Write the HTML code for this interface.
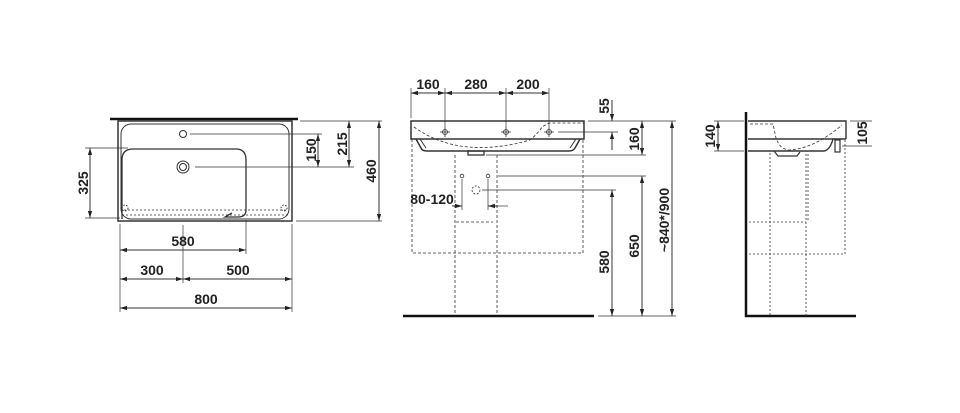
<!DOCTYPE html>
<html><head><meta charset="utf-8"><style>
html,body{margin:0;padding:0;background:#fff}
svg{display:block}
text{font-family:"Liberation Sans",Arial,sans-serif;font-weight:bold;font-size:14px;fill:#222}
</style></head><body>
<svg width="960" height="413" viewBox="0 0 960 413" xmlns="http://www.w3.org/2000/svg">
<defs>
<marker id="a" viewBox="0 0 10 10" refX="10" refY="5" markerWidth="7" markerHeight="7" orient="auto-start-reverse"><path d="M0,2 L10,5 L0,8 z" fill="#222"/></marker>
</defs>
<g stroke="#333" fill="none" stroke-width="1">
<!-- LEFT TOP VIEW -->
<line x1="110" y1="119" x2="298" y2="119" stroke-width="2.5" stroke="#111"/>
<rect x="118" y="121" width="174" height="100" stroke-width="1.5"/>
<rect x="121" y="124" width="168" height="95" rx="10"/>
<path d="M122,219 V160 Q122,149 133,149 H236 Q246,149 246,160 V210 Q246,217 238,217 H225 Q230,214 232,213" stroke-width="1.3"/>
<path d="M124,210 H288 M122,215 H288" stroke-dasharray="2,2" stroke-width="0.8"/>
<circle cx="125" cy="208" r="3" stroke-dasharray="1.5,1.5"/>
<circle cx="284" cy="208" r="3" stroke-dasharray="1.5,1.5"/>
<circle cx="183" cy="134" r="3.5"/>
<circle cx="183" cy="167" r="6"/><circle cx="183" cy="167" r="3.5"/>
<g stroke-width="0.7">
<line x1="190" y1="134" x2="322" y2="134"/>
<line x1="195" y1="167" x2="354" y2="167"/>
<line x1="300" y1="121" x2="382" y2="121"/>
<line x1="296" y1="221" x2="382" y2="221"/>
<line x1="85" y1="148" x2="128" y2="148"/>
<line x1="85" y1="218" x2="120" y2="218"/>
<line x1="120" y1="224" x2="120" y2="312"/>
<line x1="292" y1="224" x2="292" y2="312"/>
<line x1="246" y1="220" x2="246" y2="254"/>
<line x1="183" y1="225" x2="183" y2="283"/>
</g>
<line x1="318" y1="134" x2="318" y2="167" marker-start="url(#a)" marker-end="url(#a)"/>
<line x1="349" y1="121" x2="349" y2="167" marker-start="url(#a)" marker-end="url(#a)"/>
<line x1="379" y1="121" x2="379" y2="221" marker-start="url(#a)" marker-end="url(#a)"/>
<line x1="90" y1="148" x2="90" y2="218" marker-start="url(#a)" marker-end="url(#a)"/>
<line x1="120" y1="250" x2="246" y2="250" marker-start="url(#a)" marker-end="url(#a)"/>
<line x1="120" y1="279" x2="183" y2="279" marker-start="url(#a)" marker-end="url(#a)"/>
<line x1="183" y1="279" x2="292" y2="279" marker-start="url(#a)" marker-end="url(#a)"/>
<line x1="120" y1="308" x2="292" y2="308" marker-start="url(#a)" marker-end="url(#a)"/>

<!-- MIDDLE FRONT VIEW -->
<path d="M411,121 H584 V139 H411 Z" stroke-width="1.5"/>
<path d="M416,139 L421,148 Q422,151 427,151 H569 Q573,151 575,148 L580,139" stroke-width="1.5"/>
<path d="M420,139 L426,148 M576,139 L570,148"/>
<rect x="468" y="151" width="16" height="4" stroke-width="1.3"/>
<path d="M414,127 Q460,160 530,140 Q535,136 540,130 Q543,125 550,123 H584" stroke-dasharray="3,2" stroke-width="0.8"/>
<g stroke-dasharray="3,2" stroke-width="0.8">
<path d="M412,139 V253 H583 V139"/>
<path d="M455,155 V316 M497,155 V316"/>
<path d="M456,222 H493"/>
</g>
<g stroke-width="0.8">
<circle cx="445" cy="132" r="2.5"/><path d="M440,132H450M445,127V137"/>
<circle cx="506" cy="132" r="2.5"/><path d="M501,132H511M506,127V137"/>
<circle cx="549" cy="132" r="2.5"/><path d="M544,132H554M549,127V137"/>
<circle cx="462" cy="176" r="1.8"/><circle cx="488" cy="176" r="1.8"/>
<circle cx="476" cy="190" r="4" stroke-dasharray="2,1.5"/>
</g>
<line x1="403" y1="316" x2="594" y2="316" stroke-width="2.5" stroke="#111"/>
<g stroke-width="0.7">
<line x1="411" y1="88" x2="411" y2="118"/>
<line x1="445" y1="88" x2="445" y2="127"/>
<line x1="506" y1="88" x2="506" y2="127"/>
<line x1="549" y1="88" x2="549" y2="127"/>
<line x1="558" y1="132" x2="618" y2="132"/>
<line x1="588" y1="121" x2="676" y2="121"/>
<line x1="486" y1="155" x2="646" y2="155"/>
<line x1="498" y1="176" x2="646" y2="176"/>
<line x1="482" y1="190" x2="616" y2="190"/>
<line x1="462" y1="179" x2="462" y2="210"/>
<line x1="488" y1="179" x2="488" y2="210"/>
<line x1="598" y1="316" x2="676" y2="316"/>
<line x1="497" y1="206" x2="508" y2="206"/>
</g>
<line x1="411" y1="93" x2="445" y2="93" marker-start="url(#a)" marker-end="url(#a)"/>
<line x1="445" y1="93" x2="506" y2="93" marker-start="url(#a)" marker-end="url(#a)"/>
<line x1="506" y1="93" x2="549" y2="93" marker-start="url(#a)" marker-end="url(#a)"/>
<line x1="612" y1="100" x2="612" y2="121" marker-end="url(#a)"/>
<line x1="612" y1="139" x2="612" y2="132" marker-end="url(#a)"/>
<line x1="612" y1="139" x2="612" y2="150"/>
<line x1="642" y1="121" x2="642" y2="155" marker-start="url(#a)" marker-end="url(#a)"/>
<line x1="612" y1="190" x2="612" y2="316" marker-start="url(#a)" marker-end="url(#a)"/>
<line x1="642" y1="176" x2="642" y2="316" marker-start="url(#a)" marker-end="url(#a)"/>
<line x1="672" y1="121" x2="672" y2="316" marker-start="url(#a)" marker-end="url(#a)"/>
<line x1="452" y1="206" x2="462" y2="206" marker-end="url(#a)"/>
<line x1="498" y1="206" x2="488" y2="206" marker-end="url(#a)"/>

<!-- RIGHT SIDE VIEW -->
<line x1="746" y1="112" x2="746" y2="317" stroke-width="2.5" stroke="#111"/>
<line x1="745" y1="316" x2="856" y2="316" stroke-width="2.5" stroke="#111"/>
<path d="M748,121 H846 V139 M748,139 H846" stroke-width="1.4"/>
<path d="M748,151 H824 Q830,150 833,139" stroke-width="1.4"/>
<path d="M774,151 L778,156 H797 L800,152" stroke-width="1.2"/>
<rect x="835" y="140" width="5" height="12" stroke-width="1.2"/>
<path d="M750,124 H773 L776,138 Q780,150 790,150 Q815,148 842,125" stroke-dasharray="3,2" stroke-width="0.8"/>
<g stroke-dasharray="2,2" stroke-width="0.8">
<path d="M770,153 V316 M806,154 V316 M808,154 V222 M845,140 V254 M749,222 H806 M749,254 H845"/>
</g>
<g stroke-width="0.7">
<line x1="714" y1="121" x2="744" y2="121"/>
<line x1="714" y1="151" x2="744" y2="151"/>
<line x1="850" y1="121" x2="872" y2="121"/>
<line x1="842" y1="146" x2="872" y2="146"/>
</g>
<line x1="718" y1="128" x2="718" y2="121" marker-end="url(#a)"/>
<line x1="718" y1="144" x2="718" y2="151" marker-end="url(#a)"/>
<line x1="718" y1="128" x2="718" y2="144"/>
</g>
<g>
<text x="183" y="246" text-anchor="middle">580</text>
<text x="152" y="275" text-anchor="middle">300</text>
<text x="238" y="275" text-anchor="middle">500</text>
<text x="206" y="304" text-anchor="middle">800</text>
<text transform="translate(316,150) rotate(-90)" text-anchor="middle">150</text>
<text transform="translate(347,144) rotate(-90)" text-anchor="middle">215</text>
<text transform="translate(376,171) rotate(-90)" text-anchor="middle">460</text>
<text transform="translate(88,183) rotate(-90)" text-anchor="middle">325</text>
<text x="428" y="89" text-anchor="middle">160</text>
<text x="476" y="89" text-anchor="middle">280</text>
<text x="528" y="89" text-anchor="middle">200</text>
<text x="432" y="204" text-anchor="middle">80-120</text>
<text transform="translate(609,106) rotate(-90)" text-anchor="middle">55</text>
<text transform="translate(639,139) rotate(-90)" text-anchor="middle">160</text>
<text transform="translate(609,262) rotate(-90)" text-anchor="middle">580</text>
<text transform="translate(639,246) rotate(-90)" text-anchor="middle">650</text>
<text transform="translate(669,220) rotate(-90)" text-anchor="middle">~840*/900</text>
<text transform="translate(715,136) rotate(-90)" text-anchor="middle">140</text>
<text transform="translate(867,133) rotate(-90)" text-anchor="middle">105</text>
</g>
</svg>
</body></html>
